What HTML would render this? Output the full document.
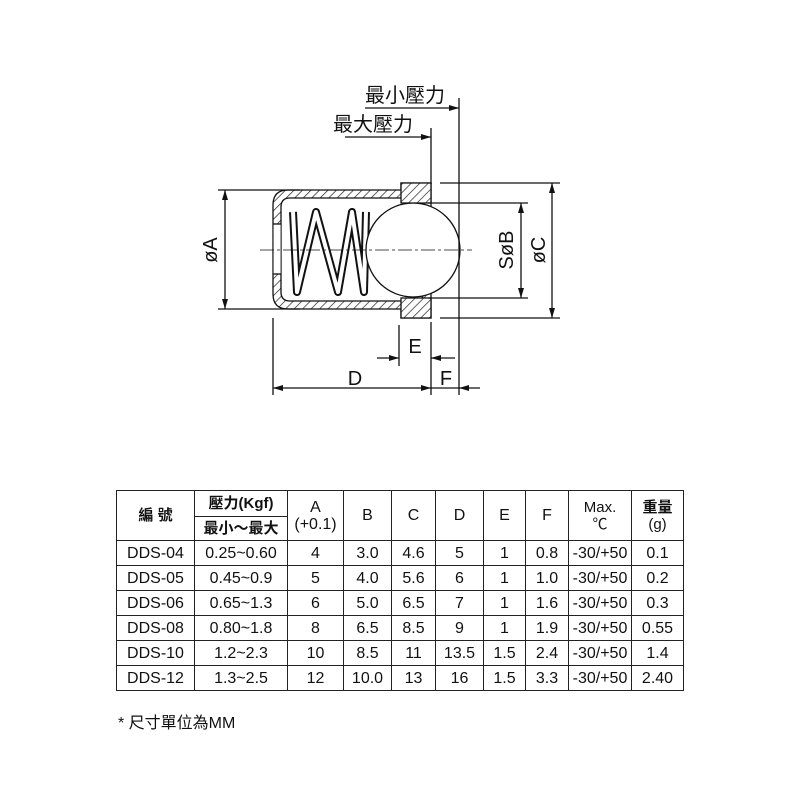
<!DOCTYPE html>
<html><head><meta charset="utf-8"><style>
body{margin:0;background:#fff;width:800px;height:800px;overflow:hidden;position:relative;font-family:"Liberation Sans","Noto Sans CJK TC",sans-serif;}
svg{position:absolute;left:0;top:0}
table{position:absolute;left:116px;top:490px;border-collapse:collapse;font-family:"Liberation Sans","Noto Sans CJK TC",sans-serif;font-size:16px;color:#111;}
td{border:1.6px solid #222;text-align:center;padding:0;height:24px;line-height:17px;}
.foot{position:absolute;left:118px;top:709px;font-size:16px;color:#111;}
</style></head><body>
<svg width="800" height="480" viewBox="0 0 800 480">
<defs>
<pattern id="h" width="6" height="6" patternUnits="userSpaceOnUse" patternTransform="rotate(45)">
<rect width="6" height="6" fill="#fff"/><line x1="0" y1="0" x2="0" y2="6" stroke="#222" stroke-width="1.4"/>
</pattern>
<marker id="a" markerWidth="10" markerHeight="8" refX="10" refY="4" orient="auto" markerUnits="userSpaceOnUse"><path d="M0,1 L10,4 L0,7 Z" fill="#111"/></marker>
</defs>
<g stroke="#111" stroke-width="1.3" fill="none">
<path fill="url(#h)" fill-rule="evenodd" d="M288,190 H401 V183 H431 V318 H401 V309 H288 Q273,309 273,294 V205 Q273,190 288,190 Z M290,198 H420 L423,204 V296 L420,301 H290 Q281,301 281,292 V207 Q281,198 290,198 Z"/>
<rect x="273.6" y="224" width="7" height="50" fill="#fff" stroke="none"/>
<line x1="273" y1="224" x2="281" y2="224"/><line x1="273" y1="274" x2="281" y2="274"/>
<polyline points="293,212 297,292 316,212 338,292 352,212 364,292 366,212" stroke="#111" stroke-width="8" stroke-linejoin="round"/>
<polyline points="293,212 297,292 316,212 338,292 352,212 364,292 366,212" stroke="#fff" stroke-width="4" stroke-linejoin="round"/>
<circle cx="413" cy="250" r="47" fill="#fff"/>
<path d="M401,183 H431 V203 H401 Z" fill="url(#h)"/>
<path d="M401,298 H431 V318 H401 Z" fill="url(#h)"/>
<line x1="260" y1="250" x2="472" y2="250" stroke-width="0.8" stroke-dasharray="14,3,3,3"/>
<line x1="459" y1="98" x2="459" y2="395"/>
<line x1="365" y1="108" x2="459" y2="108" marker-end="url(#a)"/>
<line x1="431" y1="128" x2="431" y2="184"/>
<line x1="345" y1="137" x2="431" y2="137" marker-end="url(#a)"/>
<line x1="218" y1="190" x2="300" y2="190"/><line x1="218" y1="309" x2="300" y2="309"/>
<line x1="225" y1="250" x2="225" y2="190" marker-end="url(#a)"/><line x1="225" y1="250" x2="225" y2="309" marker-end="url(#a)"/>
<line x1="428" y1="203" x2="528" y2="203"/><line x1="428" y1="298" x2="528" y2="298"/>
<line x1="521" y1="250" x2="521" y2="203" marker-end="url(#a)"/><line x1="521" y1="250" x2="521" y2="298" marker-end="url(#a)"/>
<line x1="440" y1="183" x2="560" y2="183"/><line x1="440" y1="318" x2="560" y2="318"/>
<line x1="552" y1="250" x2="552" y2="183" marker-end="url(#a)"/><line x1="552" y1="250" x2="552" y2="318" marker-end="url(#a)"/>
<line x1="399" y1="325" x2="399" y2="366"/><line x1="431" y1="322" x2="431" y2="395"/>
<line x1="377" y1="358" x2="399" y2="358" marker-end="url(#a)"/><line x1="455" y1="358" x2="431" y2="358" marker-end="url(#a)"/>
<line x1="273" y1="318" x2="273" y2="395"/>
<line x1="352" y1="388" x2="273" y2="388" marker-end="url(#a)"/><line x1="352" y1="388" x2="431" y2="388" marker-end="url(#a)"/>
<line x1="431" y1="388" x2="459" y2="388"/>
<line x1="480" y1="388" x2="459" y2="388" marker-end="url(#a)"/>
</g>
<g font-family="Liberation Sans, Noto Sans CJK TC, sans-serif" fill="#111" font-size="20">
<text x="365" y="102">最小壓力</text>
<text x="333" y="131">最大壓力</text>
<text x="355" y="385" text-anchor="middle">D</text>
<text x="415" y="353" text-anchor="middle">E</text>
<text x="446" y="385" text-anchor="middle">F</text>
<text transform="translate(217,250) rotate(-90)" text-anchor="middle">øA</text>
<text transform="translate(513,250) rotate(-90)" text-anchor="middle">SøB</text>
<text transform="translate(545,250) rotate(-90)" text-anchor="middle">øC</text>
</g>
</svg>
<table>
<colgroup><col style="width:78px"><col style="width:93px"><col style="width:56px"><col style="width:48px"><col style="width:44px"><col style="width:48px"><col style="width:42px"><col style="width:43px"><col style="width:63px"><col style="width:52px"></colgroup>
<tr><td rowspan="2" style="font-weight:bold;font-size:15px">編 號</td><td style="height:25px;font-weight:bold;font-size:15px">壓力(Kgf)</td><td rowspan="2">A<br>(+0.1)</td><td rowspan="2">B</td><td rowspan="2">C</td><td rowspan="2">D</td><td rowspan="2">E</td><td rowspan="2">F</td><td rowspan="2" style="font-size:15px">Max.<br>℃</td><td rowspan="2" style="font-size:15px"><b>重量</b><br>(g)</td></tr>
<tr><td style="height:23px;font-weight:bold;font-size:15px">最小～最大</td></tr>
<tr><td>DDS-04</td><td>0.25~0.60</td><td>4</td><td>3.0</td><td>4.6</td><td>5</td><td>1</td><td>0.8</td><td>-30/+50</td><td>0.1</td></tr>
<tr><td>DDS-05</td><td>0.45~0.9</td><td>5</td><td>4.0</td><td>5.6</td><td>6</td><td>1</td><td>1.0</td><td>-30/+50</td><td>0.2</td></tr>
<tr><td>DDS-06</td><td>0.65~1.3</td><td>6</td><td>5.0</td><td>6.5</td><td>7</td><td>1</td><td>1.6</td><td>-30/+50</td><td>0.3</td></tr>
<tr><td>DDS-08</td><td>0.80~1.8</td><td>8</td><td>6.5</td><td>8.5</td><td>9</td><td>1</td><td>1.9</td><td>-30/+50</td><td>0.55</td></tr>
<tr><td>DDS-10</td><td>1.2~2.3</td><td>10</td><td>8.5</td><td>11</td><td>13.5</td><td>1.5</td><td>2.4</td><td>-30/+50</td><td>1.4</td></tr>
<tr><td>DDS-12</td><td>1.3~2.5</td><td>12</td><td>10.0</td><td>13</td><td>16</td><td>1.5</td><td>3.3</td><td>-30/+50</td><td>2.40</td></tr>
</table>
<div class="foot">* 尺寸單位為MM</div>
</body></html>
